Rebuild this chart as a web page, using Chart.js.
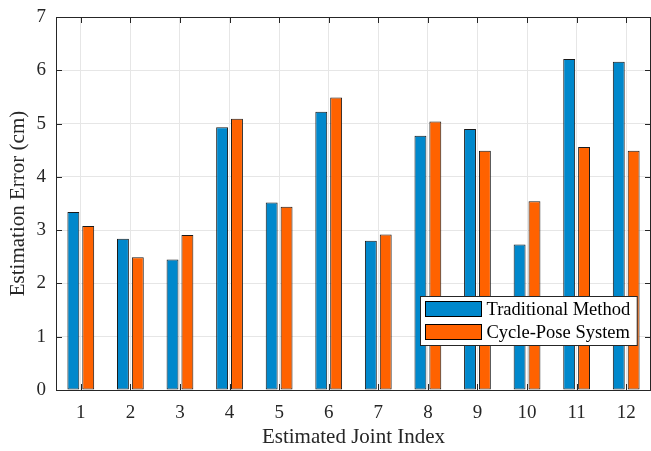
<!DOCTYPE html>
<html>
<head>
<meta charset="utf-8">
<script src="https://cdn.jsdelivr.net/npm/chart.js@4.4.1/dist/chart.umd.min.js"></script>
<style>
  html, body { margin: 0; padding: 0; background: #fff; }
</style>
</head>
<body>
<canvas id="errChart" width="651" height="451"></canvas>
<script>
// ---- data ----
const jointIndex  = ['1', '2', '3', '4', '5', '6', '7', '8', '9', '10', '11', '12'];
const traditional = [3.34, 2.84, 2.45, 4.93, 3.52, 5.22, 2.80, 4.77, 4.90, 2.73, 6.21, 6.16];
const cyclePose   = [3.08, 2.49, 2.91, 5.09, 3.44, 5.49, 2.92, 5.04, 4.49, 3.54, 4.56, 4.49];
const yTicks      = [0, 1, 2, 3, 4, 5, 6, 7];

const blue   = '#0088CC';
const orange = '#FF6200';
const ink    = '#262626';
const serif  = "'Liberation Serif', 'DejaVu Serif', serif";

// box + inward ticks like matlab axes
const boxTicks = {
  id: 'boxTicks',
  afterDraw(chart) {
    const { ctx, chartArea: a, scales } = chart;
    const len = 6;
    ctx.save();
    ctx.strokeStyle = ink;
    ctx.lineWidth = 1;
    ctx.strokeRect(Math.round(a.left) + 0.5, Math.round(a.top) + 0.5,
                   Math.round(a.right - a.left) - 1, Math.round(a.bottom - a.top));
    ctx.beginPath();
    scales.x.ticks.forEach((t, i) => {
      const x = Math.round(scales.x.getPixelForTick(i)) + 0.5;
      ctx.moveTo(x, a.bottom); ctx.lineTo(x, a.bottom - len);
      ctx.moveTo(x, a.top);    ctx.lineTo(x, a.top + len);
    });
    scales.y.ticks.forEach(t => {
      const y = Math.round(scales.y.getPixelForValue(t.value)) + 0.5;
      ctx.moveTo(a.left, y);  ctx.lineTo(a.left + len, y);
      ctx.moveTo(a.right, y); ctx.lineTo(a.right - len, y);
    });
    ctx.stroke();
    ctx.restore();
  }
};

// legend box inside the plot, lower right
const innerLegend = {
  id: 'innerLegend',
  afterDraw(chart) {
    const { ctx, chartArea: a } = chart;
    const sets = chart.data.datasets;
    ctx.save();
    ctx.font = '18.5px ' + serif;
    const textW = Math.max(...sets.map(d => ctx.measureText(d.label).width));
    const sw = 56, sh = 15, rowH = 23;
    const w = 5 + sw + 5 + textW + 7;
    const h = sets.length * rowH + 3;
    const x0 = Math.round(a.right - 14 - w) + 0.5;
    const y0 = Math.round(a.bottom - 45 - h) + 0.5;
    ctx.fillStyle = '#fff';
    ctx.fillRect(x0, y0, w, h);
    ctx.strokeStyle = ink;
    ctx.lineWidth = 1;
    ctx.strokeRect(x0, y0, w, h);
    sets.forEach((d, i) => {
      const ry = y0 + 5 + i * rowH;
      ctx.fillStyle = d.backgroundColor;
      ctx.fillRect(x0 + 5, ry, sw, sh);
      ctx.strokeStyle = '#000';
      ctx.strokeRect(x0 + 5, ry, sw, sh);
      ctx.fillStyle = '#000';
      ctx.textBaseline = 'middle';
      ctx.textAlign = 'left';
      ctx.fillText(d.label, x0 + 5 + sw + 5, ry + sh / 2 + 1);
    });
    ctx.restore();
  }
};

new Chart(document.getElementById('errChart'), {
  type: 'bar',
  data: {
    labels: jointIndex,
    datasets: [
      {
        label: 'Traditional Method',
        data: traditional,
        backgroundColor: blue,
        borderColor: '#1a1a1a',
        borderWidth: 1,
        borderSkipped: false,
        categoryPercentage: 0.6,
        barPercentage: 0.8
      },
      {
        label: 'Cycle-Pose System',
        data: cyclePose,
        backgroundColor: orange,
        borderColor: '#1a1a1a',
        borderWidth: 1,
        borderSkipped: false,
        categoryPercentage: 0.6,
        barPercentage: 0.8
      }
    ]
  },
  options: {
    responsive: false,
    animation: false,
    devicePixelRatio: 1,
    layout: { padding: { top: 17, right: 0, bottom: 0, left: 0 } },
    plugins: {
      legend: { display: false },
      tooltip: { enabled: false }
    },
    scales: {
      x: {
        offset: true,
        grid: { offset: false, color: '#e6e6e6', drawTicks: false },
        border: { color: ink },
        ticks: { color: ink, font: { family: serif, size: 19 }, padding: 12, maxRotation: 0 },
        title: {
          display: true, text: 'Estimated Joint Index', color: ink,
          font: { family: serif, size: 21 }, padding: { top: 0, bottom: 1 }
        },
        afterFit: s => { s.height = 61; }
      },
      y: {
        min: 0,
        max: 7,
        afterBuildTicks: s => { s.ticks = yTicks.map(v => ({ value: v })); },
        grid: { color: '#e6e6e6', drawTicks: false },
        border: { color: ink },
        ticks: { color: ink, font: { family: serif, size: 19 }, padding: 10 },
        title: {
          display: true, text: 'Estimation Error (cm)', color: ink,
          font: { family: serif, size: 21 }, padding: { top: 6, bottom: 0 }
        },
        afterFit: s => { s.width = 56; s.paddingTop = 0; s.paddingBottom = 0; }
      }
    }
  },
  plugins: [boxTicks, innerLegend]
});
</script>
</body>
</html>
